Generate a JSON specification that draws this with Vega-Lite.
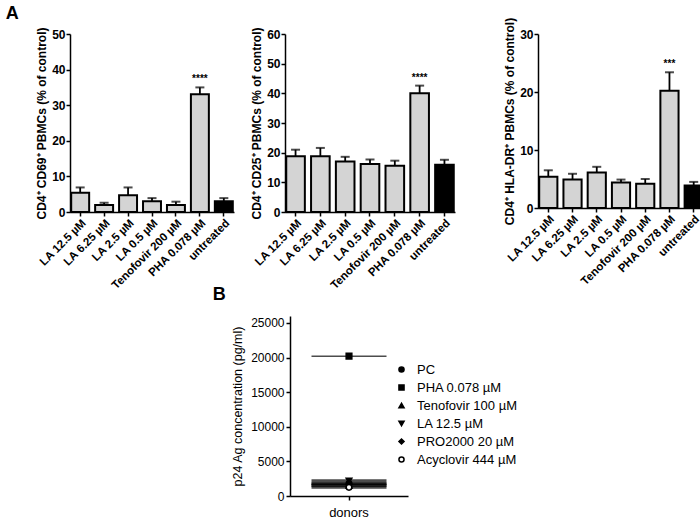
{
  "$schema": "https://vega.github.io/schema/vega-lite/v6.json",
  "padding": {"left": 5, "top": 5, "right": 2, "bottom": 0},
  "title": {"text": "A", "anchor": "start", "fontSize": 18, "fontWeight": "bold", "dx": -30, "offset": -6, "frame": "bounds", "font": "Liberation Sans", "color": "black"},
  "config": {
    "font": "Liberation Sans",
    "view": {"stroke": null},
    "axis": {"domainColor": "black", "domainWidth": 1.5, "tickColor": "black", "tickWidth": 1.5, "tickSize": 4, "labelPadding": 1, "titlePadding": 3, "labelColor": "black", "titleColor": "black", "labelFontSize": 12, "titleFontSize": 12, "labelFontWeight": "bold", "titleFontWeight": "bold", "grid": false, "labelOverlap": false, "labelFont": "Liberation Sans", "titleFont": "Liberation Sans"},
    "axisX": {"labelFontSize": 11.5, "tickSize": 4},
    "legend": {"labelFont": "Liberation Sans", "symbolStrokeColor": "black"}
  },
  "resolve": {"scale": {"shape": "independent", "fill": "independent", "stroke": "independent"}, "legend": {"shape": "independent", "fill": "independent", "stroke": "independent"}},
  "datasets": {
    "cd69": [
      {"treatment": "LA 12.5 µM", "value": 5.4, "upper": 6.9, "sig": ""},
      {"treatment": "LA 6.25 µM", "value": 2.0, "upper": 2.6, "sig": ""},
      {"treatment": "LA 2.5 µM", "value": 4.7, "upper": 6.9, "sig": ""},
      {"treatment": "LA 0.5 µM", "value": 3.0, "upper": 3.9, "sig": ""},
      {"treatment": "Tenofovir 200 µM", "value": 2.0, "upper": 2.9, "sig": ""},
      {"treatment": "PHA 0.078 µM", "value": 33.1, "upper": 35.0, "sig": "****"},
      {"treatment": "untreated", "value": 3.0, "upper": 3.9, "sig": ""}
    ],
    "cd25": [
      {"treatment": "LA 12.5 µM", "value": 18.8, "upper": 21.0, "sig": ""},
      {"treatment": "LA 6.25 µM", "value": 18.8, "upper": 21.6, "sig": ""},
      {"treatment": "LA 2.5 µM", "value": 17.0, "upper": 18.6, "sig": ""},
      {"treatment": "LA 0.5 µM", "value": 16.2, "upper": 17.7, "sig": ""},
      {"treatment": "Tenofovir 200 µM", "value": 15.6, "upper": 17.3, "sig": ""},
      {"treatment": "PHA 0.078 µM", "value": 40.0, "upper": 42.6, "sig": "****"},
      {"treatment": "untreated", "value": 15.9, "upper": 17.6, "sig": ""}
    ],
    "hladr": [
      {"treatment": "LA 12.5 µM", "value": 5.4, "upper": 6.5, "sig": ""},
      {"treatment": "LA 6.25 µM", "value": 4.9, "upper": 5.9, "sig": ""},
      {"treatment": "LA 2.5 µM", "value": 6.1, "upper": 7.1, "sig": ""},
      {"treatment": "LA 0.5 µM", "value": 4.4, "upper": 4.9, "sig": ""},
      {"treatment": "Tenofovir 200 µM", "value": 4.2, "upper": 5.0, "sig": ""},
      {"treatment": "PHA 0.078 µM", "value": 20.2, "upper": 23.4, "sig": "***"},
      {"treatment": "untreated", "value": 3.9, "upper": 4.5, "sig": ""}
    ],
    "p24": [
      {"group": "donors", "treatment": "PC", "value": 1800},
      {"group": "donors", "treatment": "PHA 0.078 µM", "value": 20200},
      {"group": "donors", "treatment": "Tenofovir 100 µM", "value": 1500},
      {"group": "donors", "treatment": "LA 12.5 µM", "value": 2200},
      {"group": "donors", "treatment": "PRO2000 20 µM", "value": 1700},
      {"group": "donors", "treatment": "Acyclovir 444 µM", "value": 1250}
    ]
  },
  "spacing": -6,
  "vconcat": [
    {
      "spacing": 16,
      "hconcat": [
        {
          "width": 164, "height": 178,
          "data": {"name": "cd69"},
          "encoding": {"x": {"field": "treatment", "type": "nominal", "sort": null, "axis": {"title": null, "labelAngle": -45}, "scale": {"paddingInner": 0.25, "paddingOuter": 0.05}}},
          "layer": [
            {"mark": {"type": "bar", "stroke": "black", "strokeWidth": 2},
             "encoding": {"y": {"field": "value", "type": "quantitative", "scale": {"domain": [0, 50], "padding": 0}, "axis": {"title": "CD4⁺ CD69⁺ PBMCs (% of control)", "values": [0, 10, 20, 30, 40, 50]}},
                          "fill": {"condition": {"test": "datum.treatment === 'untreated'", "value": "black"}, "value": "#d4d4d4"}}},
            {"mark": {"type": "rule", "strokeWidth": 1.8, "color": "black"}, "encoding": {"y": {"field": "value", "type": "quantitative", "axis": {"title": "CD4⁺ CD69⁺ PBMCs (% of control)", "values": [0, 10, 20, 30, 40, 50]}}, "y2": {"field": "upper"}}},
            {"mark": {"type": "tick", "thickness": 2, "size": 9, "color": "black"}, "encoding": {"y": {"field": "upper", "type": "quantitative", "axis": {"title": "CD4⁺ CD69⁺ PBMCs (% of control)", "values": [0, 10, 20, 30, 40, 50]}}}},
            {"transform": [{"filter": "datum.sig != ''"}], "mark": {"type": "text", "dy": -8, "fontSize": 10, "fontWeight": "bold", "color": "black"}, "encoding": {"y": {"field": "upper", "type": "quantitative", "axis": {"title": "CD4⁺ CD69⁺ PBMCs (% of control)", "values": [0, 10, 20, 30, 40, 50]}}, "text": {"field": "sig"}}}
          ]
        },
        {
          "spacing": 48,
          "hconcat": [
            {
              "width": 170, "height": 178,
              "data": {"name": "cd25"},
              "encoding": {"x": {"field": "treatment", "type": "nominal", "sort": null, "axis": {"title": null, "labelAngle": -45}, "scale": {"paddingInner": 0.25, "paddingOuter": 0.05}}},
              "layer": [
                {"mark": {"type": "bar", "stroke": "black", "strokeWidth": 2},
                 "encoding": {"y": {"field": "value", "type": "quantitative", "scale": {"domain": [0, 60], "padding": 0}, "axis": {"title": "CD4⁺ CD25⁺ PBMCs (% of control)", "values": [0, 10, 20, 30, 40, 50, 60]}},
                              "fill": {"condition": {"test": "datum.treatment === 'untreated'", "value": "black"}, "value": "#d4d4d4"}}},
                {"mark": {"type": "rule", "strokeWidth": 1.8, "color": "black"}, "encoding": {"y": {"field": "value", "type": "quantitative", "axis": {"title": "CD4⁺ CD25⁺ PBMCs (% of control)", "values": [0, 10, 20, 30, 40, 50, 60]}}, "y2": {"field": "upper"}}},
                {"mark": {"type": "tick", "thickness": 2, "size": 9, "color": "black"}, "encoding": {"y": {"field": "upper", "type": "quantitative", "axis": {"title": "CD4⁺ CD25⁺ PBMCs (% of control)", "values": [0, 10, 20, 30, 40, 50, 60]}}}},
                {"transform": [{"filter": "datum.sig != ''"}], "mark": {"type": "text", "dy": -8, "fontSize": 10, "fontWeight": "bold", "color": "black"}, "encoding": {"y": {"field": "upper", "type": "quantitative", "axis": {"title": "CD4⁺ CD25⁺ PBMCs (% of control)", "values": [0, 10, 20, 30, 40, 50, 60]}}, "text": {"field": "sig"}}}
              ]
            },
            {
              "width": 166, "height": 174,
              "data": {"name": "hladr"},
              "encoding": {"x": {"field": "treatment", "type": "nominal", "sort": null, "axis": {"title": null, "labelAngle": -45}, "scale": {"paddingInner": 0.25, "paddingOuter": 0.05}}},
              "layer": [
                {"mark": {"type": "bar", "stroke": "black", "strokeWidth": 2},
                 "encoding": {"y": {"field": "value", "type": "quantitative", "scale": {"domain": [0, 30], "padding": 0}, "axis": {"title": "CD4⁺ HLA-DR⁺ PBMCs (% of control)", "values": [0, 10, 20, 30]}},
                              "fill": {"condition": {"test": "datum.treatment === 'untreated'", "value": "black"}, "value": "#d4d4d4"}}},
                {"mark": {"type": "rule", "strokeWidth": 1.8, "color": "black"}, "encoding": {"y": {"field": "value", "type": "quantitative", "axis": {"title": "CD4⁺ HLA-DR⁺ PBMCs (% of control)", "values": [0, 10, 20, 30]}}, "y2": {"field": "upper"}}},
                {"mark": {"type": "tick", "thickness": 2, "size": 9, "color": "black"}, "encoding": {"y": {"field": "upper", "type": "quantitative", "axis": {"title": "CD4⁺ HLA-DR⁺ PBMCs (% of control)", "values": [0, 10, 20, 30]}}}},
                {"transform": [{"filter": "datum.sig != ''"}], "mark": {"type": "text", "dy": -8, "fontSize": 10, "fontWeight": "bold", "color": "black"}, "encoding": {"y": {"field": "upper", "type": "quantitative", "axis": {"title": "CD4⁺ HLA-DR⁺ PBMCs (% of control)", "values": [0, 10, 20, 30]}}, "text": {"field": "sig"}}}
              ]
            }
          ]
        }
      ]
    },
    {
      "spacing": 0,
      "resolve": {"scale": {"shape": "independent", "fill": "independent", "stroke": "independent"}, "legend": {"shape": "independent", "fill": "independent", "stroke": "independent"}},
      "hconcat": [
        {"width": 142, "height": 1, "data": {"values": [{}]}, "mark": {"type": "point", "opacity": 0}, "encoding": {}},
        {
          "width": 118, "height": 180,
          "data": {"name": "p24"},
          "title": {"text": "B", "anchor": "start", "fontSize": 18, "fontWeight": "bold", "frame": "bounds", "dx": -19, "offset": 12, "color": "black"},
          "encoding": {"x": {"field": "group", "type": "nominal", "axis": {"title": null, "labelAngle": 0, "labelFontWeight": "normal", "labelFontSize": 13, "labelPadding": 6}}},
          "layer": [
            {"transform": [{"filter": "datum.treatment !== 'PHA 0.078 µM'"}],
             "mark": {"type": "tick", "size": 75, "thickness": 3, "color": "black"},
             "encoding": {"y": {"field": "value", "type": "quantitative", "scale": {"domain": [0, 25000], "padding": 0}, "axis": {"title": "p24 Ag concentration  (pg/ml)", "values": [0, 5000, 10000, 15000, 20000, 25000], "format": "d", "labelFontWeight": "normal", "titleFontWeight": "normal", "titleFontSize": 12.5, "labelPadding": 2, "titlePadding": 6}}}},
            {"transform": [{"filter": "datum.treatment === 'PHA 0.078 µM'"}],
             "mark": {"type": "tick", "size": 75, "thickness": 1.5, "color": "black"},
             "encoding": {"y": {"field": "value", "type": "quantitative", "axis": {"title": "p24 Ag concentration  (pg/ml)", "values": [0, 5000, 10000, 15000, 20000, 25000], "format": "d", "labelFontWeight": "normal", "titleFontWeight": "normal", "titleFontSize": 12.5, "labelPadding": 2, "titlePadding": 6}}}},
            {"mark": {"type": "point", "size": 32, "strokeWidth": 1.5, "opacity": 1},
             "encoding": {
               "y": {"field": "value", "type": "quantitative", "axis": {"title": "p24 Ag concentration  (pg/ml)", "values": [0, 5000, 10000, 15000, 20000, 25000], "format": "d", "labelFontWeight": "normal", "titleFontWeight": "normal", "titleFontSize": 12.5, "labelPadding": 2, "titlePadding": 6}},
               "stroke": {"field": "treatment", "type": "nominal", "scale": {"domain": ["PC", "PHA 0.078 µM", "Tenofovir 100 µM", "LA 12.5 µM", "PRO2000 20 µM", "Acyclovir 444 µM"], "range": ["black", "black", "black", "black", "black", "black"]},
                         "legend": {"orient": "right", "offset": -13, "title": " ", "titleFontSize": 4, "titlePadding": 43, "labelFontSize": 13, "symbolSize": 26, "symbolStrokeWidth": 1.5, "rowPadding": 4, "labelOffset": 9, "labelColor": "black", "padding": 0}},
               "shape": {"field": "treatment", "type": "nominal", "scale": {"domain": ["PC", "PHA 0.078 µM", "Tenofovir 100 µM", "LA 12.5 µM", "PRO2000 20 µM", "Acyclovir 444 µM"], "range": ["circle", "square", "triangle-up", "triangle-down", "diamond", "circle"]},
                         "legend": {"orient": "right", "offset": -13, "title": " ", "titleFontSize": 4, "titlePadding": 43, "labelFontSize": 13, "symbolSize": 26, "symbolStrokeWidth": 1.5, "rowPadding": 4, "labelOffset": 9, "labelColor": "black", "padding": 0}},
               "fill": {"field": "treatment", "type": "nominal", "scale": {"domain": ["PC", "PHA 0.078 µM", "Tenofovir 100 µM", "LA 12.5 µM", "PRO2000 20 µM", "Acyclovir 444 µM"], "range": ["black", "black", "black", "black", "black", "white"]},
                         "legend": {"orient": "right", "offset": -13, "title": " ", "titleFontSize": 4, "titlePadding": 43, "labelFontSize": 13, "symbolSize": 26, "symbolStrokeWidth": 1.5, "rowPadding": 4, "labelOffset": 9, "labelColor": "black", "padding": 0}}
             }}
          ]
        }
      ]
    }
  ]
}
